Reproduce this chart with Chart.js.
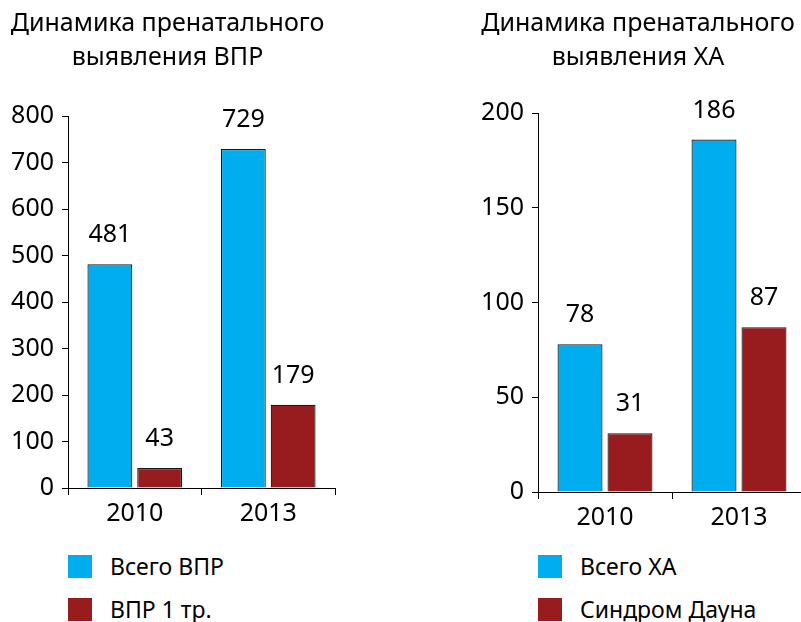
<!DOCTYPE html>
<html>
<head>
<meta charset="utf-8">
<script src="https://cdn.jsdelivr.net/npm/chart.js@4.4.1/dist/chart.umd.min.js"></script>
<style>
  body { margin: 0; width: 801px; height: 622px; overflow: hidden; background: #fff; position: relative; font-family: "Noto Sans", sans-serif; }
  .box { position: absolute; top: 0; }
  .legend { position: absolute; font-size: 23px; color: #000; }
  .legend-item { position: absolute; left: 0; white-space: nowrap; height: 24px; }
  .legend-item span.sw { position: absolute; left: 0; top: 0; width: 24px; height: 23px; }
  .legend-item span.tx { position: absolute; left: 42px; top: -4px; line-height: 30px; }
</style>
</head>
<body>
<div class="box" style="left:0px"><canvas id="chartVpr" width="340" height="540"></canvas></div>
<div class="box" style="left:470px"><canvas id="chartXa" width="336" height="540"></canvas></div>
<div class="legend" id="legendVpr" style="left:68px; top:555px"></div>
<div class="legend" id="legendXa" style="left:538px; top:555px"></div>
<script>
  // Data
  const years = ['2010', '2013'];
  const vprTotal = [481, 729];
  const vprFirst = [43, 179];
  const xaTotal = [78, 186];
  const xaDown = [31, 87];

  const titleVpr = ['Динамика пренатального', 'выявления ВПР'];
  const titleXa = ['Динамика пренатального', 'выявления ХА'];
  const labelsVpr = ['Всего ВПР', 'ВПР 1 тр.'];
  const labelsXa = ['Всего ХА', 'Синдром Дауна'];

  const BLUE = '#00AEEF';
  const RED = '#981B1E';
  const FONT = '"Noto Sans", sans-serif';

  // draws the value above every bar
  const valueLabels = {
    id: 'valueLabels',
    afterDatasetsDraw(chart) {
      const ctx = chart.ctx;
      ctx.save();
      ctx.font = '25px ' + FONT;
      ctx.fillStyle = '#000';
      ctx.textAlign = 'center';
      ctx.textBaseline = 'middle';
      chart.data.datasets.forEach((ds, i) => {
        chart.getDatasetMeta(i).data.forEach((bar, j) => {
          ctx.fillText(ds.data[j], bar.x, bar.y - 29);
        });
      });
      ctx.restore();
    }
  };

  function makeChart(id, title, labels, totals, parts, yMax, yStep, titleBottom, xHeight, padRight) {
    const ctx = document.getElementById(id).getContext('2d');
    return new Chart(ctx, {
      type: 'bar',
      data: {
        labels: years,
        datasets: [
          { label: labels[0], data: totals, backgroundColor: BLUE, borderColor: '#1a1a1a', borderWidth: 1.2,
            categoryPercentage: 0.746, barPercentage: 0.9 },
          { label: labels[1], data: parts, backgroundColor: RED, borderColor: '#1a1a1a', borderWidth: 1.2,
            categoryPercentage: 0.746, barPercentage: 0.9 }
        ]
      },
      options: {
        responsive: false,
        animation: false,
        layout: { padding: { right: padRight } },
        scales: {
          x: {
            grid: { offset: true, drawOnChartArea: false, drawTicks: true, tickLength: 7, color: '#000' },
            border: { color: '#000', width: 1 },
            ticks: { color: '#000', font: { family: FONT, size: 25 }, padding: 4 },
            afterFit(scale) { scale.height = xHeight; }
          },
          y: {
            min: 0,
            max: yMax,
            grid: { drawOnChartArea: false, drawTicks: true, tickLength: 6, color: '#000' },
            border: { color: '#000', width: 1 },
            ticks: { stepSize: yStep, color: '#000', font: { family: FONT, size: 25 }, padding: 8 },
            afterFit(scale) { scale.width = 68; }
          }
        },
        plugins: {
          legend: { display: false },
          tooltip: { enabled: false },
          title: {
            display: true,
            text: title,
            color: '#000',
            font: { family: FONT, size: 25, weight: 'normal', lineHeight: 1.35 },
            padding: { top: 7, bottom: titleBottom }
          }
        }
      },
      plugins: [valueLabels]
    });
  }

  function buildLegend(chart, elId) {
    const el = document.getElementById(elId);
    chart.data.datasets.forEach((ds, i) => {
      const item = document.createElement('div');
      item.className = 'legend-item';
      item.style.top = (i * 43) + 'px';
      item.innerHTML = `<span class="sw" style="background:${ds.backgroundColor}"></span><span class="tx">${ds.label}</span>`;
      el.appendChild(item);
    });
  }

  const vprChart = makeChart('chartVpr', titleVpr, labelsVpr, vprTotal, vprFirst, 800, 100, 41.5, 52, 5);
  const xaChart = makeChart('chartXa', titleXa, labelsXa, xaTotal, xaDown, 200, 50, 38.5, 48, 0);
  buildLegend(vprChart, 'legendVpr');
  buildLegend(xaChart, 'legendXa');
</script>
</body>
</html>
